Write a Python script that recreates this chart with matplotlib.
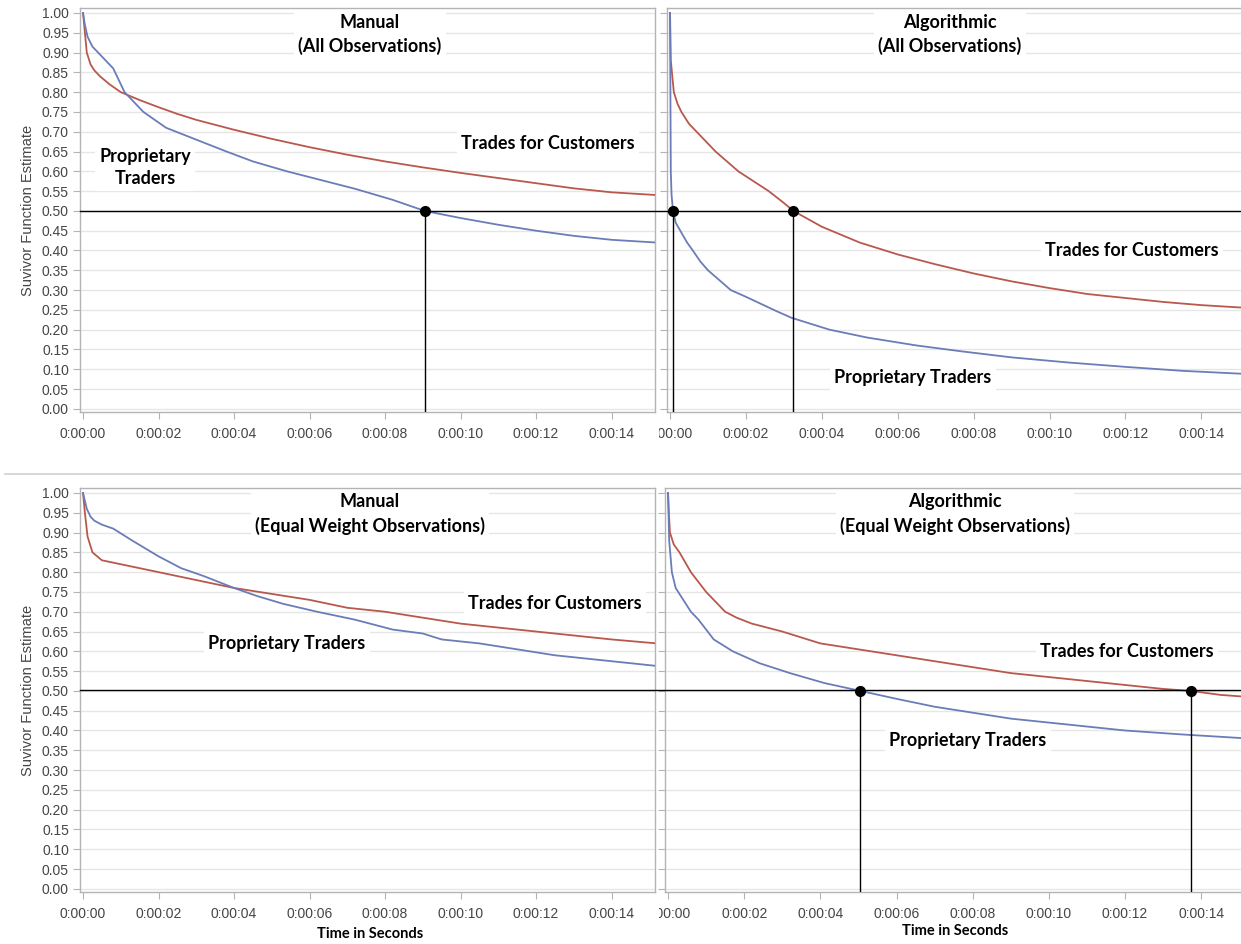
import matplotlib.pyplot as plt
import matplotlib.lines as mlines
import matplotlib.patches as mpatches

# time in seconds, survivor estimate
t_man_all_prop = [0, 0.05, 0.12, 0.25, 0.4, 0.6, 0.8, 0.95, 1.1, 1.35, 1.6, 1.9, 2.2, 2.6, 3.0, 3.4, 3.8, 4.5, 5.4, 6.3, 7.2, 8.2, 9.05, 10, 11, 12, 13, 14, 15.2]
s_man_all_prop = [1.0, 0.97, 0.94, 0.915, 0.90, 0.88, 0.86, 0.83, 0.80, 0.775, 0.75, 0.73, 0.71, 0.695, 0.68, 0.665, 0.65, 0.625, 0.60, 0.578, 0.556, 0.528, 0.50, 0.482, 0.465, 0.45, 0.437, 0.427, 0.42]
t_man_all_cust = [0, 0.05, 0.1, 0.2, 0.3, 0.45, 0.7, 1.0, 1.5, 2, 2.5, 3, 4, 5, 6, 7, 8, 9, 10, 11, 12, 13, 14, 15.2]
s_man_all_cust = [1.0, 0.95, 0.90, 0.87, 0.855, 0.84, 0.82, 0.80, 0.78, 0.762, 0.745, 0.73, 0.705, 0.682, 0.661, 0.642, 0.625, 0.61, 0.596, 0.583, 0.57, 0.557, 0.547, 0.54]

t_alg_all_prop = [0, 0.01, 0.02, 0.04, 0.08, 0.15, 0.3, 0.45, 0.6, 0.8, 1.0, 1.3, 1.6, 2.0, 2.4, 2.8, 3.2, 3.7, 4.2, 5.2, 6.5, 7.7, 9, 10.5, 12, 13.5, 15.2]
s_alg_all_prop = [1.0, 0.80, 0.60, 0.54, 0.50, 0.47, 0.445, 0.42, 0.40, 0.372, 0.35, 0.325, 0.30, 0.283, 0.265, 0.247, 0.23, 0.215, 0.20, 0.18, 0.16, 0.145, 0.13, 0.117, 0.106, 0.096, 0.088]
t_alg_all_cust = [0, 0.02, 0.04, 0.07, 0.1, 0.2, 0.3, 0.5, 0.7, 0.95, 1.2, 1.5, 1.8, 2.2, 2.6, 3.0, 3.25, 4, 5, 6, 7, 8, 9, 10, 11, 12, 13, 14, 15.2]
s_alg_all_cust = [1.0, 0.88, 0.86, 0.83, 0.80, 0.77, 0.75, 0.72, 0.70, 0.675, 0.65, 0.625, 0.60, 0.575, 0.55, 0.52, 0.50, 0.46, 0.42, 0.39, 0.365, 0.342, 0.322, 0.305, 0.29, 0.28, 0.27, 0.262, 0.255]

t_man_eq_prop = [0, 0.05, 0.1, 0.2, 0.3, 0.5, 0.8, 1.3, 2.0, 2.6, 3.2, 4.0, 4.6, 5.3, 6.2, 7.2, 8.2, 9.0, 9.5, 10.5, 11.5, 12.5, 13.5, 14.5, 15.2]
s_man_eq_prop = [1.0, 0.98, 0.96, 0.94, 0.93, 0.92, 0.91, 0.88, 0.84, 0.81, 0.79, 0.76, 0.74, 0.72, 0.70, 0.68, 0.655, 0.645, 0.63, 0.62, 0.605, 0.59, 0.58, 0.57, 0.563]
t_man_eq_cust = [0, 0.05, 0.12, 0.25, 0.5, 1, 2, 3, 4, 5, 6, 7, 8, 9, 10, 11, 12, 13, 14, 15.2]
s_man_eq_cust = [1.0, 0.95, 0.89, 0.85, 0.83, 0.82, 0.80, 0.78, 0.76, 0.745, 0.73, 0.71, 0.70, 0.685, 0.67, 0.66, 0.65, 0.64, 0.63, 0.62]

t_alg_eq_prop = [0, 0.03, 0.1, 0.2, 0.4, 0.6, 0.8, 1.0, 1.2, 1.7, 2.4, 3.2, 4.1, 5.05, 6, 7, 8, 9, 10, 11, 12, 13.5, 15.2]
s_alg_eq_prop = [1.0, 0.88, 0.80, 0.76, 0.73, 0.70, 0.68, 0.655, 0.63, 0.60, 0.57, 0.545, 0.52, 0.50, 0.48, 0.46, 0.445, 0.43, 0.42, 0.41, 0.40, 0.39, 0.38]
t_alg_eq_cust = [0, 0.02, 0.05, 0.15, 0.3, 0.45, 0.6, 0.8, 1.0, 1.25, 1.5, 1.8, 2.2, 3, 4, 5, 6, 7, 8, 9, 10, 11, 12, 13, 13.73, 14.5, 15.2]
s_alg_eq_cust = [1.0, 0.95, 0.90, 0.87, 0.85, 0.825, 0.80, 0.775, 0.75, 0.725, 0.70, 0.685, 0.67, 0.65, 0.62, 0.605, 0.59, 0.575, 0.56, 0.545, 0.535, 0.525, 0.515, 0.505, 0.50, 0.49, 0.485]

medians_man_all = [9.05]
medians_alg_all = [0.08, 3.23]
medians_man_eq = []
medians_alg_eq = [5.04, 13.73]

xticks = [0, 2, 4, 6, 8, 10, 12, 14]
xticklabels = ["0:00:00", "0:00:02", "0:00:04", "0:00:06", "0:00:08", "0:00:10", "0:00:12", "0:00:14"]
yticks = [i * 0.05 for i in range(21)]

BLUE = "#6b7cb8"
RED = "#b9584c"
GRID = "#e6e6e6"
SPINE = "#b4b4b4"
TXT = "#454545"

W, H = 1241, 944
fig = plt.figure(figsize=(12.41, 9.44), dpi=100)


def add_ax(x0, x1, y0, y1):
    return fig.add_axes([x0 / W, 1 - y1 / H, (x1 - x0) / W, (y1 - y0) / H])


ax_tl = add_ax(80, 655, 8, 412)
ax_tr = add_ax(667, 1245, 8, 412)
ax_bl = add_ax(80, 655, 488, 892)
ax_br = add_ax(665, 1245, 488, 892)

panels = [
    (ax_tl, t_man_all_prop, s_man_all_prop, t_man_all_cust, s_man_all_cust, medians_man_all, True),
    (ax_tr, t_alg_all_prop, s_alg_all_prop, t_alg_all_cust, s_alg_all_cust, medians_alg_all, False),
    (ax_bl, t_man_eq_prop, s_man_eq_prop, t_man_eq_cust, s_man_eq_cust, medians_man_eq, True),
    (ax_br, t_alg_eq_prop, s_alg_eq_prop, t_alg_eq_cust, s_alg_eq_cust, medians_alg_eq, False),
]

for ax, tp, sp, tc, sc, meds, left in panels:
    ax.set_xlim(-0.08, 15.15)
    ax.set_ylim(-0.008, 1.0126)
    ax.set_yticks(yticks)
    ax.set_xticks(xticks)
    ax.set_xticklabels(xticklabels, fontsize=10, color=TXT, family="Liberation Sans")
    if left:
        ax.set_yticklabels([f"{v:.2f}" for v in yticks], fontsize=10, color=TXT, family="Liberation Sans")
        ax.set_ylabel("Suvivor Function Estimate", fontsize=10.5, color=TXT,
                      family="Liberation Sans", labelpad=5)
    else:
        ax.set_yticklabels([])
    ax.tick_params(length=5, color=SPINE, width=0.8)
    ax.tick_params(axis="x", pad=6)
    ax.tick_params(axis="y", pad=3)
    for s in ax.spines.values():
        s.set_color(SPINE)
        s.set_linewidth(1.0)
    ax.grid(axis="y", color=GRID, linewidth=1.0)
    ax.set_axisbelow(True)
    ax.plot(tc, sc, color=RED, lw=1.3, zorder=3)
    ax.plot(tp, sp, color=BLUE, lw=1.3, zorder=3)
    for m in meds:
        ax.plot([m, m], [-0.008, 0.5], color="black", lw=1.0, zorder=4)
        ax.plot(m, 0.5, "o", color="black", ms=7, zorder=5)

fig.text(370 / W, 1 - 934 / H, "Time in Seconds", ha="center", va="center",
         fontsize=10.5, fontweight="bold", family="Lato")
fig.text(955 / W, 1 - 931 / H, "Time in Seconds", ha="center", va="center",
         fontsize=10.5, fontweight="bold", family="Lato")

box = dict(facecolor="white", edgecolor="none", pad=3)
tkw = dict(ha="center", va="center", fontsize=13, fontweight="bold", family="Lato",
           zorder=2, bbox=box, linespacing=1.4)


def label(ax, px, val, s):
    b = ax.get_position()
    xf = (px / W - b.x0) / b.width
    ax.text(xf, val, s, transform=ax.get_yaxis_transform(), **tkw)


label(ax_tl, 370, 0.945, "Manual\n(All Observations)")
label(ax_tl, 145, 0.61, "Proprietary\nTraders")
label(ax_tl, 548, 0.67, "Trades for Customers")
label(ax_tr, 950, 0.945, "Algorithmic\n(All Observations)")
label(ax_tr, 1132, 0.40, "Trades for Customers")
label(ax_tr, 913, 0.078, "Proprietary Traders")
label(ax_bl, 370, 0.947, "Manual\n(Equal Weight Observations)")
label(ax_bl, 555, 0.72, "Trades for Customers")
label(ax_bl, 287, 0.62, "Proprietary Traders")
label(ax_br, 955, 0.947, "Algorithmic\n(Equal Weight Observations)")
label(ax_br, 1127, 0.60, "Trades for Customers")
label(ax_br, 968, 0.375, "Proprietary Traders")

# 0.5 reference lines across both panels of each row
for py in (211, 690):
    fig.add_artist(mlines.Line2D([80 / W, 1.0], [1 - py / H, 1 - py / H], color="black", lw=1.0, zorder=6))

# separator between the two rows
fig.add_artist(mlines.Line2D([5 / W, 1.0], [1 - 474 / H, 1 - 474 / H], color="#cfcfcf", lw=1.2))

# hide the part of the right panels' first tick label that runs under the left panels
for py0 in (416, 896):
    fig.add_artist(mpatches.Rectangle((638 / W, 1 - (py0 + 26) / H), 21 / W, 26 / H,
                                      facecolor="white", edgecolor="none", zorder=10))

fig.savefig("out.png", dpi=100)
